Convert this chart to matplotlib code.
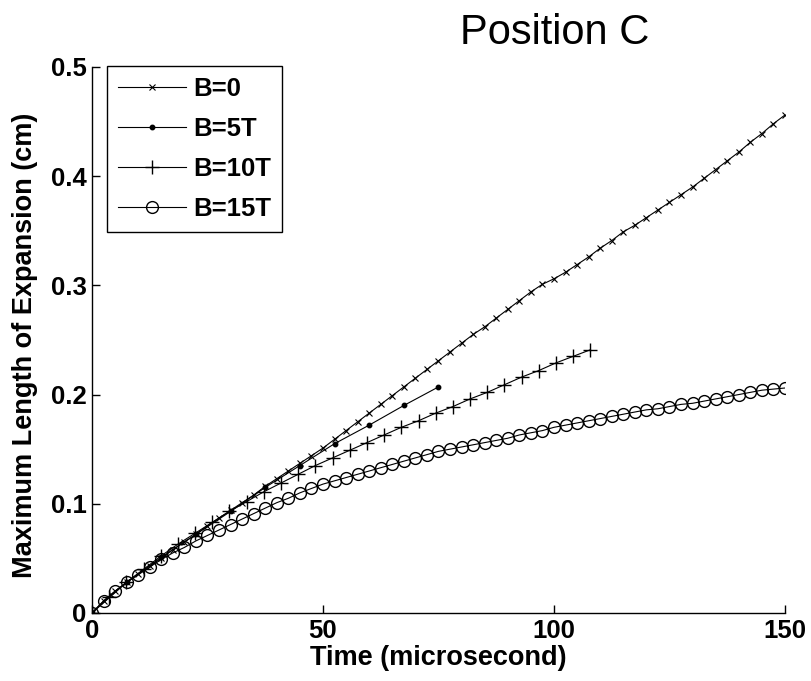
import matplotlib
matplotlib.use("Agg")
import matplotlib.pyplot as plt
import numpy as np

# time grids (microsecond)
T_FINE = np.arange(61) * 2.5          # B=0 and B=15T, 0..150
T_5T = np.arange(11) * 7.5            # B=5T, 0..75
T_10T = np.arange(30) * 3.72          # B=10T, 0..~108

B0 = [0.000, 0.011, 0.020, 0.028, 0.036, 0.043, 0.050, 0.058, 0.065, 0.072,
      0.080, 0.087, 0.094, 0.101, 0.108, 0.116, 0.123, 0.130, 0.137, 0.144,
      0.151, 0.159, 0.167, 0.175, 0.183, 0.191, 0.199, 0.207, 0.215, 0.223,
      0.231, 0.239, 0.247, 0.255, 0.262, 0.270, 0.278, 0.286, 0.294, 0.301,
      0.306, 0.312, 0.319, 0.326, 0.334, 0.341, 0.349, 0.355, 0.362, 0.369,
      0.376, 0.383, 0.390, 0.398, 0.406, 0.414, 0.422, 0.431, 0.439, 0.448,
      0.456]

B5T = [0.000, 0.028, 0.051, 0.072, 0.093, 0.115, 0.135, 0.155, 0.172, 0.190,
       0.207]

B10T = [0.000, 0.015, 0.028, 0.040, 0.052, 0.063, 0.073, 0.083, 0.093, 0.102,
        0.111, 0.119, 0.127, 0.135, 0.142, 0.149, 0.156, 0.163, 0.170, 0.176,
        0.183, 0.189, 0.196, 0.202, 0.209, 0.216, 0.222, 0.229, 0.235, 0.241]

B15T = [0.000, 0.011, 0.020, 0.028, 0.035, 0.042, 0.049, 0.055, 0.060, 0.066,
        0.071, 0.076, 0.081, 0.086, 0.091, 0.096, 0.101, 0.105, 0.110, 0.114,
        0.118, 0.121, 0.124, 0.127, 0.130, 0.133, 0.136, 0.139, 0.142, 0.145,
        0.148, 0.150, 0.152, 0.154, 0.156, 0.158, 0.160, 0.163, 0.165, 0.167,
        0.170, 0.172, 0.174, 0.176, 0.178, 0.180, 0.182, 0.184, 0.186, 0.187,
        0.189, 0.191, 0.192, 0.194, 0.196, 0.198, 0.200, 0.202, 0.204, 0.205,
        0.206]

LABELS = ["B=0", "B=5T", "B=10T", "B=15T"]
X_TICKS = [0, 50, 100, 150]
Y_TICKS = [0, 0.1, 0.2, 0.3, 0.4, 0.5]
Y_TICK_LABELS = ["0", "0.1", "0.2", "0.3", "0.4", "0.5"]

TICK_SIZE = 18.5
LABEL_SIZE = 19.5

plt.rcParams["font.family"] = ["Liberation Sans", "DejaVu Sans"]

fig = plt.figure(figsize=(8.12, 6.81), dpi=100)
ax = fig.add_axes([0.1133, 0.0999, 0.8534, 0.8018])

line_kw = {"color": "black", "linewidth": 0.8}
ax.plot(T_FINE, B0, marker="x", markersize=4.5, markeredgewidth=0.8, label=LABELS[0], **line_kw)
ax.plot(T_5T, B5T, marker="o", markersize=3.2, markerfacecolor="black", label=LABELS[1], **line_kw)
ax.plot(T_10T, B10T, marker="+", markersize=9.5, markeredgewidth=1.0, label=LABELS[2], **line_kw)
ax.plot(T_FINE, B15T, marker="o", markersize=8.5, markerfacecolor="none",
        markeredgewidth=1.0, label=LABELS[3], **line_kw)

ax.set_xlim(0, 150)
ax.set_ylim(0, 0.5)
ax.set_xticks(X_TICKS)
ax.set_yticks(Y_TICKS)
ax.set_yticklabels(Y_TICK_LABELS)
ax.tick_params(direction="in", length=6, width=1.0, labelsize=TICK_SIZE, pad=4)
for lbl in ax.get_xticklabels() + ax.get_yticklabels():
    lbl.set_fontweight("bold")
ax.spines["top"].set_visible(False)
ax.spines["right"].set_visible(False)
ax.spines["left"].set_linewidth(1.0)
ax.spines["bottom"].set_linewidth(1.0)

ax.set_xlabel("Time (microsecond)", fontsize=LABEL_SIZE, fontweight="bold")
ax.set_ylabel("Maximum Length of Expansion (cm)", fontsize=LABEL_SIZE, fontweight="bold")
ax.xaxis.set_label_coords(0.5, -0.058)
ax.yaxis.set_label_coords(-0.078, 0.49)

leg = ax.legend(loc="upper left", bbox_to_anchor=(0.0216, 1.002), borderaxespad=0,
                fancybox=False, edgecolor="black", framealpha=1.0, handlelength=2.65,
                labelspacing=0.63, borderpad=0.42, handletextpad=0.27,
                prop={"size": TICK_SIZE, "weight": "bold"})
leg.get_frame().set_linewidth(1.0)

fig.text(0.683, 0.952, "Position C", fontsize=30, ha="center", va="center")

fig.savefig("out.png", dpi=100)
